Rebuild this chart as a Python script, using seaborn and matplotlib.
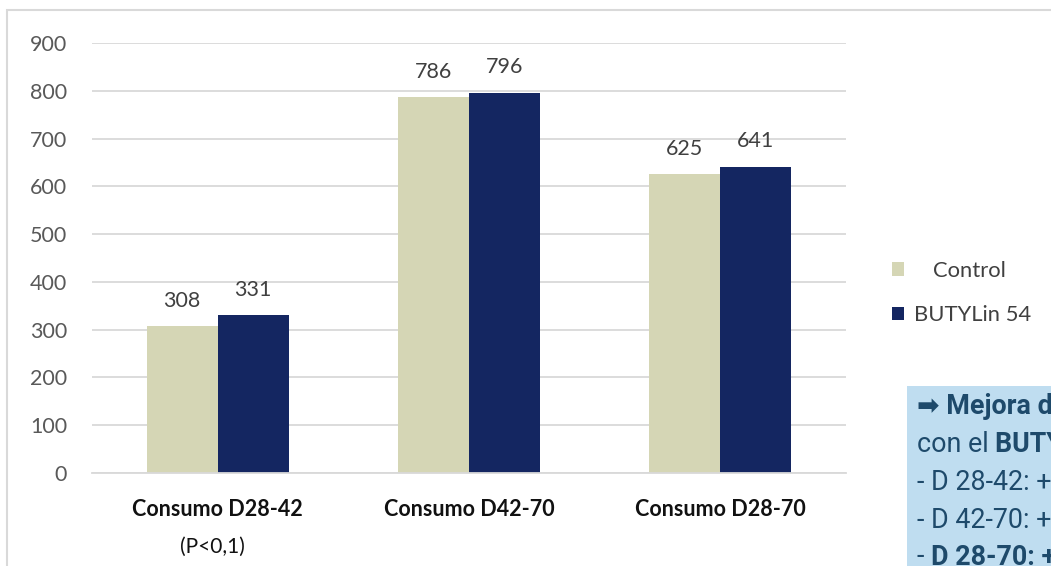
import matplotlib
matplotlib.use("Agg")
import matplotlib.pyplot as plt
import seaborn as sns
import pandas as pd
from matplotlib.patches import Rectangle

categories = ["Consumo D28-42", "Consumo D42-70", "Consumo D28-70"]
series_names = ["Control", "BUTYLin 54"]
control_values = [308, 786, 625]
butylin_values = [331, 796, 641]
y_ticks = [0, 100, 200, 300, 400, 500, 600, 700, 800, 900]
sub_label = "(P<0,1)"
box_lines = [
    [("\u27A1 Mejora del consumo", "bold")],
    [("con el ", "normal"), ("BUTYLin 54", "bold")],
    [("- D 28-42: +7,5%", "normal")],
    [("- D 42-70: +1,3%", "normal")],
    [("- ", "normal"), ("D 28-70: +2,6%", "bold")],
]

colors = ["#D5D6B5", "#142661"]

df = pd.DataFrame({
    "cat": categories * 2,
    "serie": [series_names[0]] * 3 + [series_names[1]] * 3,
    "val": control_values + butylin_values,
})

sns.set_theme(style="white")
plt.rcParams["font.family"] = ["Lato", "DejaVu Sans"]

W, H = 1051, 566
fig = plt.figure(figsize=(W / 100, H / 100), dpi=100)
fig.patch.set_facecolor("white")

# outer chart frame
fig.add_artist(Rectangle((7 / W, -0.1), 1.2, 1 - 10 / H + 0.1, transform=fig.transFigure,
                         fill=False, edgecolor="#d9d9d9", linewidth=1.5, zorder=-2))
# info box background
fig.add_artist(Rectangle((907 / W, -0.1), 0.5, 1 - 386 / H + 0.1, transform=fig.transFigure,
                         facecolor="#BFDDF0", edgecolor="none", zorder=-1))

ax = fig.add_axes([92 / W, 1 - 473 / H, (846 - 92) / W, (473 - 43) / H])
ax.set_facecolor("none")
sns.barplot(data=df, x="cat", y="val", hue="serie", palette=colors, width=0.566,
            gap=0, ax=ax, saturation=1, edgecolor="none", linewidth=0)

ax.set_ylim(0, 900)
ax.set_xlim(-0.5, 2.5)
ax.set_yticks(y_ticks)
ax.set_xlabel("")
ax.set_ylabel("")
ax.grid(axis="y", color="#d9d9d9", linewidth=1.3)
ax.set_axisbelow(True)
for s in ["top", "right", "left"]:
    ax.spines[s].set_visible(False)
ax.spines["bottom"].set_color("#d9d9d9")
ax.spines["bottom"].set_linewidth(1.3)
ax.tick_params(axis="y", length=0, pad=18, labelsize=15.5, labelcolor="#595959")
ax.tick_params(axis="x", length=0, pad=19, labelsize=15.5, labelcolor="#111111")
xt = ax.get_xticklabels()
for t in xt:
    t.set_fontweight("bold")

for c in ax.containers:
    ax.bar_label(c, padding=11, fontsize=15.5, color="#404040")

ax.text(-0.02, -0.172, sub_label, transform=ax.get_xaxis_transform(), ha="center",
        va="center", fontsize=15, color="#111111")

leg = ax.legend(loc="upper left", bbox_to_anchor=(872 / W, 1 - 241 / H),
                bbox_transform=fig.transFigure, frameon=False, fontsize=15.8,
                handlelength=0.55, handleheight=0.55, handletextpad=0.45,
                labelspacing=1.1)
for t in leg.get_texts():
    t.set_color("#404040")
leg.get_texts()[0].set_x(19)

# info box text
y0 = 407
for i, line in enumerate(box_lines):
    yy = 1 - (y0 + i * 37.5) / H
    prev = None
    for txt, wt in line:
        kw = dict(fontsize=19.4, color="#1E4A6B", fontweight=wt,
                  family=["Roboto", "DejaVu Sans"], annotation_clip=False)
        if prev is None:
            prev = ax.annotate(txt, xy=(917 / W, yy), xycoords="figure fraction",
                               ha="left", va="center", **kw)
        else:
            prev = ax.annotate(txt, xy=(1, 0), xycoords=prev, ha="left", va="bottom", **kw)

fig.savefig("out.png", dpi=100)
